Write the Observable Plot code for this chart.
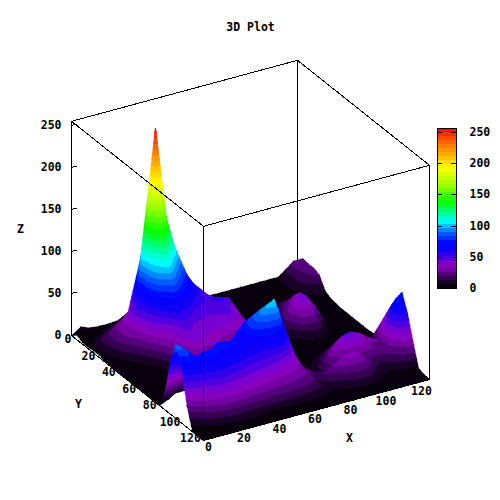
<!DOCTYPE html>
<html><head><meta charset="utf-8">
<script src="https://cdn.jsdelivr.net/npm/d3@7"></script>
<script src="https://cdn.jsdelivr.net/npm/@observablehq/plot@0.6"></script>
<style>html,body{margin:0;padding:0;background:#fff}#chart{position:relative;width:500px;height:500px}#chart svg{position:absolute;left:0;top:0;background:transparent}</style>
</head><body><div id="chart"></div>
<script>
const gridX = d3.range(0,125,5);
const gridY = d3.range(0,125,5);
const heights = [
[0,7,3,2,2,3,5,8,8,6,5,4,3,3,3,3,3,3,3,3,3,3,3,5,6],
[6,6,3,2,4,6,20,25,30,20,12,8,5,4,3,3,3,3,3,3,3,4,8,24,24],
[2,4,4,10,10,18,45,55,50,38,25,15,8,5,3,2,2,2,2,3,3,3,10,20,23],
[2,8,10,20,18,38,85,90,70,55,38,25,14,7,3,2,2,2,2,3,3,3,10,18,23],
[3,14,22,30,32,97,170,160,105,70,50,35,22,10,4,2,2,2,3,4,4,3,6,14,20],
[3,15,25,35,55,130,254,150,108,76,58,42,30,15,6,3,2,3,5,8,7,3,3,8,7],
[1,12,25,35,60,110,150,110,85,70,52,46,35,20,8,3,2,4,10,14,12,4,2,3,3],
[1,6,18,30,52,95,115,90,72,60,50,48,42,25,9,3,3,6,15,20,16,5,2,2,2],
[0,2,10,22,42,60,85,72,58,50,48,54,50,30,10,4,3,8,20,32,20,5,2,1,1],
[0,1,4,12,30,42,62,55,48,45,46,50,40,28,10,4,3,15,30,40,25,5,2,1,1],
[0,0,2,5,18,34,50,45,42,42,44,45,38,25,12,4,3,18,38,42,27,5,2,1,1],
[0,0,1,2,8,30,45,42,40,38,38,35,28,18,8,3,3,12,28,32,12,3,1,1,1],
[0,0,1,2,3,20,40,38,35,30,28,20,15,10,5,3,2,5,12,15,5,2,1,1,1],
[0,0,1,2,3,10,30,28,28,28,25,15,12,8,4,2,2,3,5,3,2,1,1,1,1],
[0,0,1,2,3,6,18,22,28,32,30,25,20,10,3,2,2,2,2,2,1,1,1,1,2],
[0,1,3,4,4,8,14,25,40,50,50,55,45,15,3,2,2,3,5,6,5,3,2,2,3],
[0,5,12,10,10,20,30,45,60,72,75,80,75,25,4,3,4,8,12,14,12,8,5,8,27],
[20,30,35,30,35,50,60,60,68,80,88,92,85,30,6,4,8,15,24,28,25,16,10,35,51],
[63,70,60,55,60,70,68,62,70,83,95,103,70,25,3,6,12,24,36,40,36,28,20,42,66],
[88,80,68,70,72,73,72,70,66,70,75,70,50,25,3,7,23,37,46,45,33,24,25,67,78],
[67,75,66,73,72,68,62,58,55,52,50,45,35,25,18,15,18,20,22,24,22,20,25,50,58],
[26,45,52,58,56,52,50,45,42,40,36,32,28,24,10,20,30,35,35,25,14,8,15,25,30],
[0,10,28,38,38,36,32,30,28,26,24,22,20,16,10,8,12,18,20,15,6,5,5,5,3],
[0,0,3,6,8,8,8,6,6,5,5,5,5,4,3,2,3,5,5,4,2,1,1,1,1],
[0,0,0,0,0,0,0,0,0,0,0,0,0,0,0,0,0,0,0,0,0,0,0,0,0]
];
const paletteZ = [0,10,20,30,38,48,60,72,90,106,120,136,165,192,215,235,256];
const paletteColors = ["#000000","#1a0028","#480070","#7a00a8","#8e00c8","#5000e0","#1000f8","#0000ff","#0070ff","#00ffff","#00ff90","#00ff00","#a0ff00","#ffff00","#ffaa00","#ff6000","#ff0000"];
const bandStep = 6.4;
const zTop = 255;
const xTicks = [0,20,40,60,80,100,120];
const yTicks = [0,20,40,60,80,100,120];
const zTicks = [0,50,100,150,200,250];
const barTicks = [0,50,100,150,200,250];
const fontFamily = "'DejaVu Sans Mono','Liberation Mono',monospace";

// orthographic view of the box, gnuplot style
const sx = (x,y) => 71 + x/120*226 + y/120*132;
const sy = (x,y,z=0) => 335 + y/120*105 - x/120*61 - z*0.84;

// each facet is coloured by elevation band, like the stepped palette of the reference
const facets = [];
let id = 0;
const mix = (a,b,t) => a.map((v,i)=>v+(b[i]-v)*t);
function clip(poly, level, keepAbove){
  const out=[];
  for(let i=0;i<poly.length;i++){
    const a=poly[i], b=poly[(i+1)%poly.length];
    const ina = keepAbove ? a[2]>=level : a[2]<=level;
    const inb = keepAbove ? b[2]>=level : b[2]<=level;
    if(ina) out.push(a);
    if(ina!==inb) out.push(mix(a,b,(level-a[2])/(b[2]-a[2])));
  }
  return out;
}
function tri(a,b,c){
  const zs=[a[2],b[2],c[2]];
  const k0=Math.floor(d3.min(zs)/bandStep), k1=Math.floor(d3.max(zs)/bandStep);
  for(let k=k0;k<=k1;k++){
    const lo=k*bandStep, hi=lo+bandStep;
    let poly=clip(clip([a,b,c],lo,true),hi,false);
    if(poly.length<3) continue;
    id++;
    const v=lo+bandStep/2;
    for(const p of poly) facets.push({id,v,px:sx(p[0],p[1]),py:sy(p[0],p[1],p[2])});
  }
}
for (let j=0;j<gridY.length-1;j++){
  for (let i=gridX.length-2;i>=0;i--){
    const P=(ii,jj)=>[gridX[ii],gridY[jj],heights[jj][ii]];
    tri(P(i,j),P(i+1,j),P(i+1,j+1));
    tri(P(i,j),P(i+1,j+1),P(i,j+1));
  }
}
const edge = (pts,k) => pts.map(p=>({k,px:sx(p[0],p[1]),py:sy(p[0],p[1],p[2])}));
const backEdges = [
  ...edge([[0,0,0],[120,0,0],[120,120,0]],"b1"),
  ...edge([[120,0,0],[120,0,zTop]],"b2"),
  ...edge([[0,0,zTop],[120,0,zTop],[120,120,zTop]],"b3")
];
const frontEdges = [
  ...edge([[0,0,0],[0,120,0],[120,120,0],[120,120,zTop],[0,120,zTop],[0,0,zTop],[0,0,0]],"f1"),
  ...edge([[0,120,0],[0,120,zTop]],"f2")
];
const zTickLines = zTicks.flatMap(z=>edge([[0,0,z],[3,0,z]],"z"+z));
const textOpts = {fontFamily, fontSize:11.5, fontWeight:"bold", fill:"black"};

const main = Plot.plot({
  width:500, height:500, margin:0,
  x:{domain:[0,500],range:[0,500],axis:null},
  y:{domain:[0,500],range:[0,500],axis:null},
  color:{type:"linear",domain:paletteZ,range:paletteColors,interpolate:"rgb"},
  style:{background:"transparent"},
  marks:[
    Plot.line(backEdges,{x:"px",y:"py",z:"k",stroke:"black",strokeWidth:1,shapeRendering:"crispEdges"}),
    Plot.line(facets,{x:"px",y:"py",z:"id",fill:"v",stroke:"v",strokeWidth:0.6,curve:"linear-closed",shapeRendering:"crispEdges"}),
    Plot.line(frontEdges,{x:"px",y:"py",z:"k",stroke:"black",strokeWidth:1,shapeRendering:"crispEdges"}),
    Plot.line(zTickLines,{x:"px",y:"py",z:"k",stroke:"black",strokeWidth:1,shapeRendering:"crispEdges"}),
    Plot.text(zTicks,{x:()=>sx(0,0),y:z=>sy(0,0,z),text:z=>String(z),textAnchor:"end",dx:-10,dy:0,...textOpts}),
    Plot.text(yTicks,{x:y=>sx(0,y)-3.5-y/120*9.5,y:y=>sy(0,y)+4-y/120*6,text:y=>String(y),...textOpts}),
    Plot.text(xTicks,{x:x=>sx(x,120)+5-13*x/120,y:x=>sy(x,120)+7+5*x/120,text:x=>String(x),...textOpts}),
    Plot.text(["X"],{x:()=>349,y:()=>438,text:d=>d,...textOpts}),
    Plot.text(["Y"],{x:()=>78,y:()=>404,text:d=>d,...textOpts}),
    Plot.text(["Z"],{x:()=>20,y:()=>229,text:d=>d,...textOpts}),
    Plot.text(["3D Plot"],{x:()=>250,y:()=>27,text:d=>d,...textOpts})
  ]
});
const bands = d3.range(0,256,bandStep);
const bar = Plot.plot({
  width:500, height:500,
  marginLeft:437, marginRight:44, marginTop:128, marginBottom:212,
  x:{domain:[0,1],axis:null},
  y:{domain:[0,256]},
  color:{type:"linear",domain:paletteZ,range:paletteColors,interpolate:"rgb"},
  style:{background:"transparent"},
  marks:[
    Plot.rect(bands,{x1:0,x2:1,y1:d=>d,y2:d=>Math.min(256,d+bandStep),fill:d=>d+bandStep/2,shapeRendering:"crispEdges",inset:-0.2}),
    Plot.ruleY(barTicks,{x1:0,x2:0.25,stroke:"black",shapeRendering:"crispEdges"}),
    Plot.ruleY(barTicks,{x1:0.75,x2:1,stroke:"black",shapeRendering:"crispEdges"}),
    Plot.frame({stroke:"black",shapeRendering:"crispEdges"}),
    Plot.axisY(barTicks,{anchor:"right",tickSize:0,tickPadding:13,label:null,fontFamily,fontSize:11.5,fontWeight:"bold",fill:"black",color:"black"})
  ]
});
const c = document.getElementById("chart");
c.append(main); c.append(bar);
</script></body></html>
